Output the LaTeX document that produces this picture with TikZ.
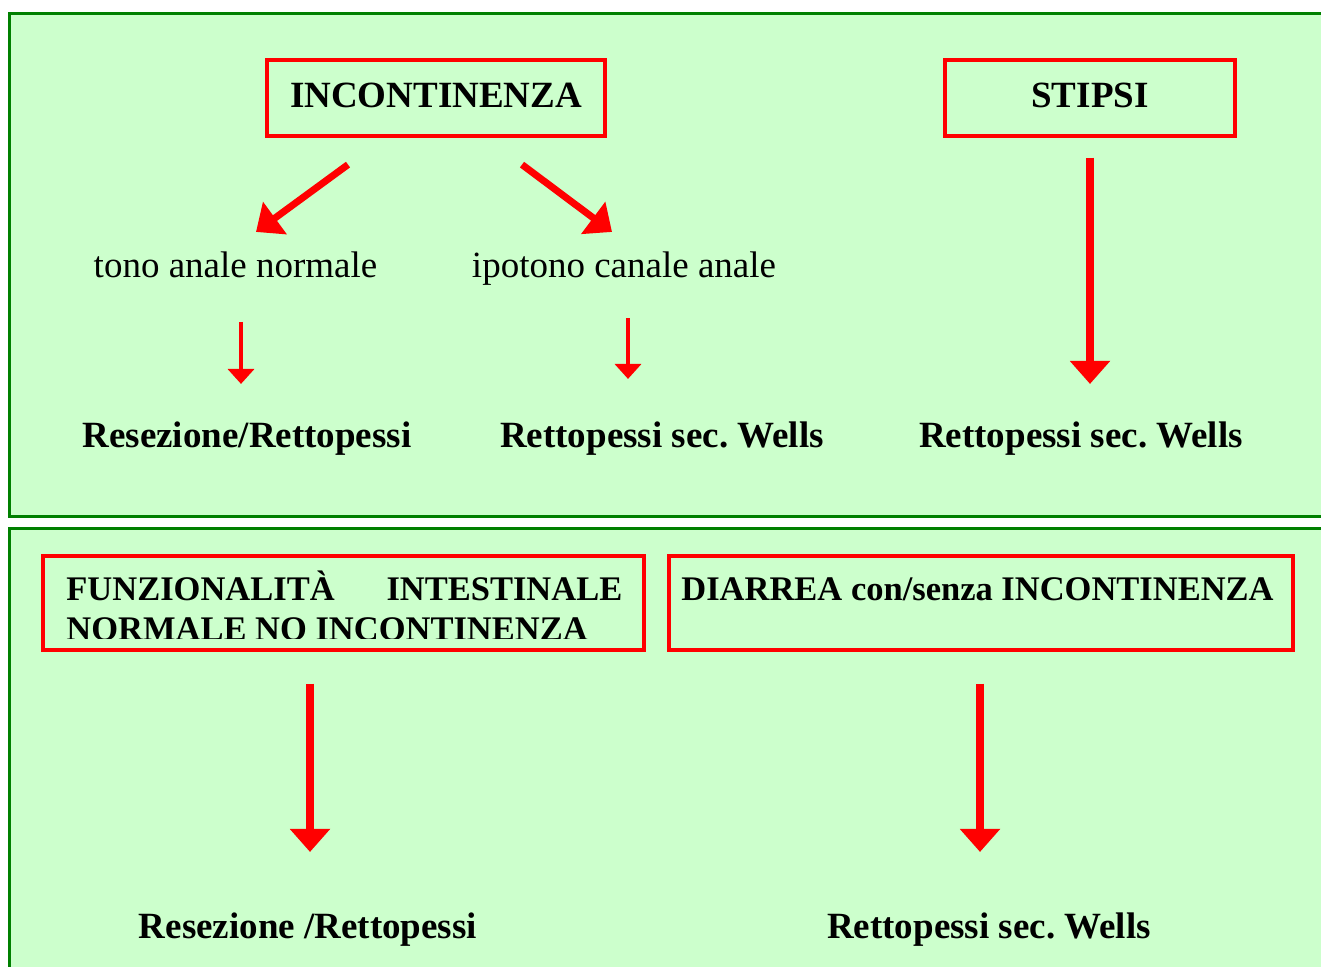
\documentclass[tikz,border=0pt]{standalone}
\usepackage{fontspec}
\setmainfont{Liberation Serif}
\frenchspacing
\usetikzlibrary{arrows.meta,calc}
\definecolor{bordoverde}{RGB}{0,128,0}
\definecolor{fondoverde}{RGB}{204,255,204}
\tikzset{
  pannello/.style={draw=bordoverde,line width=1.5pt,fill=fondoverde},
  riquadro/.style={draw=red,line width=1.6pt,inner sep=0pt},
  titolo/.style={font=\bfseries\fontsize{18.5}{22}\selectfont,text depth=3pt},
  voce/.style={font=\fontsize{18.5}{22}\selectfont,inner sep=0pt,anchor=base},
  esito/.style={font=\bfseries\fontsize{18.5}{22}\selectfont,inner sep=0pt,anchor=base},
  testoriq/.style={font=\bfseries\fontsize{17.25}{20}\selectfont,inner sep=0pt,anchor=base west},
  frecciagrande/.style={draw=red,line width=4pt,-{Triangle[width=19.5pt,length=11.5pt]}},
  frecciadiag/.style={draw=red,line width=3.5pt,-{Triangle[width=19.5pt,length=11.75pt]}},
  frecciapiccola/.style={draw=red,line width=2.25pt,-{Triangle[width=13pt,length=7.5pt]}},
}
\begin{document}
\begin{tikzpicture}[x=0.5pt,y=-0.5pt]
  \useasboundingbox (0,0) rectangle (1321,966);
  \clip (0,0) rectangle (1321,966);

  \draw[pannello] (9.5,13.5) rectangle (1340,516.5);
  \draw[pannello] (9.5,528.5) rectangle (1340,990);

  % riquadri
  \node[riquadro,titolo,minimum width=169pt,minimum height=38pt] (incont) at (436,98) {INCONTINENZA};
  \node[riquadro,titolo,minimum width=145pt,minimum height=38pt] (stipsi) at (1090,98) {STIPSI};
  \node[riquadro,minimum width=300.5pt,minimum height=47pt] (funz) at (343.5,603) {};
  \node[riquadro,minimum width=312pt,minimum height=47pt] (diarrea) at (981,603) {};

  \begin{scope}
    \clip (43,556) rectangle (644,638);
    \node[testoriq,text width=278pt,align=justify] (funztesto) at (66,600)
      {FUNZIONALITÀ\hfill INTESTINALE\\NORMALE NO INCONTINENZA};
  \end{scope}
  \node[testoriq] (diarreatesto) at (681,600) {DIARREA con/senza INCONTINENZA};

  % testi
  \node[voce] (tono) at (235.5,277) {tono anale normale};
  \node[voce] (ipotono) at (624,277) {ipotono canale anale};
  \node[esito] (resA) at (247,447) {Resezione/Rettopessi};
  \node[esito] (wellsA) at (662,447) {Rettopessi sec. Wells};
  \node[esito] (wellsB) at (1081,447) {Rettopessi sec. Wells};
  \node[esito] (resB) at (308,938) {Resezione /Rettopessi};
  \node[esito] (wellsC) at (989,938) {Rettopessi sec. Wells};

  % frecce
  \draw[frecciadiag] ($(incont.south)+(-88,27)$) -- ($(tono.north)+(20.5,-19)$);
  \draw[frecciadiag] ($(incont.south)+(86,27)$) -- ($(ipotono.north)+(-12,-19)$);
  \draw[frecciapiccola] ($(tono.south)+(5.5,44)$) -- ($(resA.north)+(-6,-37)$);
  \draw[frecciapiccola] ($(ipotono.south)+(4,33)$) -- ($(wellsA.north)+(-34,-42)$);
  \draw[frecciagrande] ($(stipsi.south)+(0,20)$) -- ($(wellsB.north)+(9,-37)$);
  \draw[frecciagrande] ($(funz.south)+(-33.5,32)$) -- ($(resB.north)+(2,-60)$);
  \draw[frecciagrande] ($(diarrea.south)+(-1,32)$) -- ($(wellsC.north)+(-9,-60)$);
\end{tikzpicture}
\end{document}
